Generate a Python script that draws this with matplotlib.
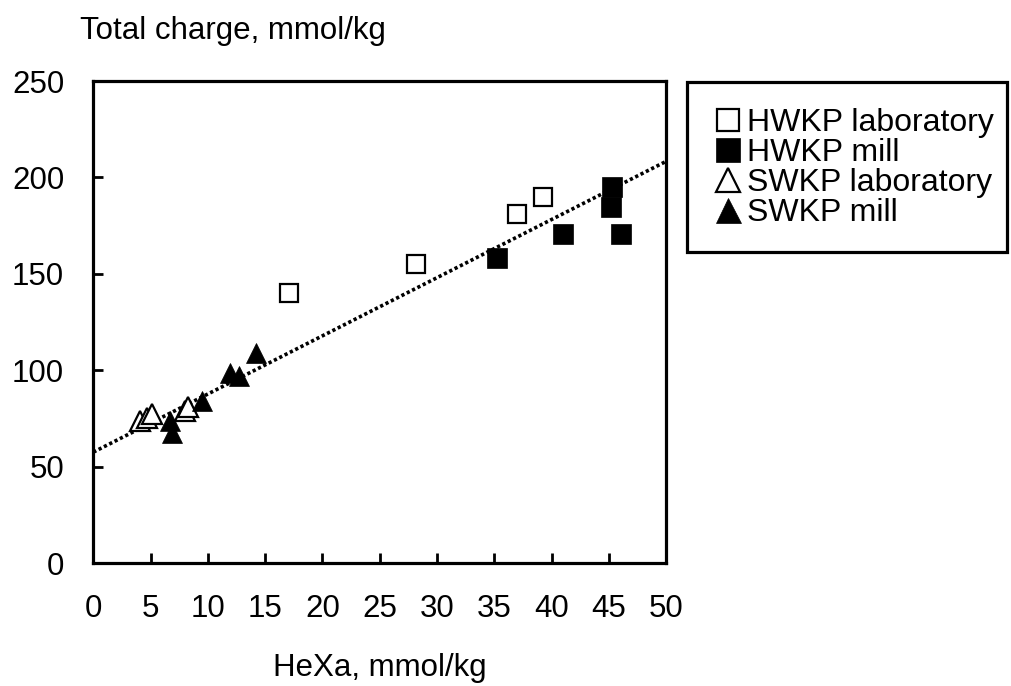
import matplotlib
matplotlib.use("Agg")
import matplotlib.pyplot as plt
from matplotlib.lines import Line2D
from matplotlib.patches import Rectangle

plt.rcParams['font.family'] = ['Liberation Sans', 'DejaVu Sans']

# data (HeXa, total charge), mmol/kg
hw_lab_x = [17.1, 28.2, 37.0, 39.25]
hw_lab_y = [140.2, 155.0, 180.9, 190.0]
hw_mill_x = [35.2, 41.0, 45.3, 45.2, 46.1]
hw_mill_y = [158.0, 170.5, 195.2, 184.8, 170.5]
sw_lab_x = [4.1, 4.65, 5.1, 8.0, 8.3]
sw_lab_y = [73.8, 75.0, 77.4, 79.0, 81.0]
sw_mill_x = [6.7, 6.85, 9.5, 11.9, 12.7, 14.2]
sw_mill_y = [73.8, 67.6, 84.0, 98.7, 97.0, 109.0]
trend_x = [0, 50]
trend_y = [57.5, 208.3]

x_ticks = list(range(0, 51, 5))
y_ticks = list(range(0, 251, 50))

FS = 22.5
LW = 2.3

fig = plt.figure(figsize=(10.11, 6.86), dpi=100)
ax = fig.add_axes([0.0923, 0.1793, 0.5665, 0.7026])

ax.plot(trend_x, trend_y, color="black", lw=2.6, ls=(0, (0.9, 0.75)), zorder=1)

ax.plot(hw_lab_x, hw_lab_y, ls="none", marker="s", ms=13.5, mfc="white",
        mec="black", mew=1.6, zorder=3)
ax.plot(hw_mill_x, hw_mill_y, ls="none", marker="s", ms=14.5, mfc="black",
        mec="black", mew=0.5, zorder=3)
ax.plot(sw_lab_x, sw_lab_y, ls="none", marker="^", ms=14, mfc="white",
        mec="black", mew=1.6, zorder=3)
ax.plot(sw_mill_x, sw_mill_y, ls="none", marker="^", ms=15, mfc="black",
        mec="black", mew=0.5, zorder=3)

ax.set_xlim(0, 50)
ax.set_ylim(0, 250)
ax.set_xticks(x_ticks)
ax.set_yticks(y_ticks)
for s in ax.spines.values():
    s.set_linewidth(LW)
ax.tick_params(direction="in", length=7.5, width=2, labelsize=FS,
               top=False, right=False)
ax.tick_params(axis="x", pad=22)
ax.tick_params(axis="y", pad=21)

ax.set_xlabel("HeXa, mmol/kg", fontsize=FS, labelpad=21)
fig.text(0.079, 0.955, "Total charge, mmol/kg", fontsize=FS,
         ha="left", va="center")

# legend, frame drawn separately
handles = [
    Line2D([], [], ls="none", marker="s", ms=16, mfc="white", mec="black", mew=1.6),
    Line2D([], [], ls="none", marker="s", ms=17, mfc="black", mec="black", mew=0.5),
    Line2D([], [], ls="none", marker="^", ms=17, mfc="white", mec="black", mew=1.6),
    Line2D([], [], ls="none", marker="^", ms=18, mfc="black", mec="black", mew=0.5),
]
labels = ["HWKP laboratory", "HWKP mill", "SWKP laboratory", "SWKP mill"]
fig.legend(handles, labels, loc="upper left", bbox_to_anchor=(0.707, 0.842),
           frameon=False, fontsize=23, handlelength=0.8, handletextpad=0.22,
           labelspacing=0.0, borderpad=0, borderaxespad=0)
fig.patches.append(Rectangle((0.6795, 0.632), 0.317, 0.248,
                             transform=fig.transFigure, fill=False,
                             edgecolor="black", lw=LW))

fig.savefig("out.png", dpi=100)
